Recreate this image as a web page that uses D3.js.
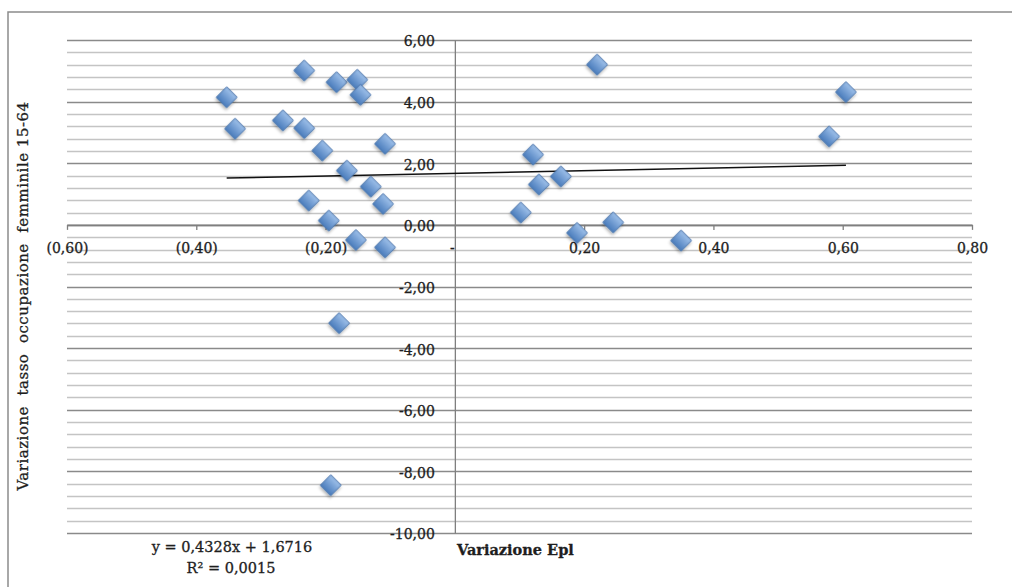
<!DOCTYPE html>
<html lang="it">
<head>
  <meta charset="UTF-8" />
  <title>Variazione Epl vs tasso occupazione femminile</title>
  <style>
    body {
      margin: 0; background: #fff;
    }
    #chart text {
      font-family: "DejaVu Serif", "Liberation Serif", serif;
      fill: #1e1e1e;
      stroke: #1e1e1e;
      stroke-width: 0.3px;
    }
  </style>
</head>
<body>
  <div id="chart"></div>

  <script src="https://cdn.jsdelivr.net/npm/d3@7"></script>
  <script>
    // values
    const epl = [-0.353, -0.340, -0.233, -0.266, -0.233, -0.183, -0.151, -0.146, -0.205, -0.108,
                 -0.167, -0.130, -0.226, -0.111, -0.195, -0.153, -0.108, -0.179, -0.192,
                 0.220, 0.121, 0.130, 0.164, 0.102, 0.189, 0.245, 0.350, 0.579, 0.605];
    const occupazione = [4.14, 3.12, 5.01, 3.39, 3.14, 4.63, 4.71, 4.22, 2.41, 2.63,
                         1.76, 1.24, 0.79, 0.68, 0.14, -0.49, -0.73, -3.19, -8.45,
                         5.20, 2.28, 1.31, 1.57, 0.40, -0.26, 0.08, -0.51, 2.87, 4.31];

    const xTicks = [-0.6, -0.4, -0.2, 0, 0.2, 0.4, 0.6, 0.8];
    const xTickLabels = ["(0,60)", "(0,40)", "(0,20)", "-", "0,20", "0,40", "0,60", "0,80"];
    const yTicks = [6, 4, 2, 0, -2, -4, -6, -8, -10];
    const yTickLabels = ["6,00", "4,00", "2,00", "0,00", "-2,00", "-4,00", "-6,00", "-8,00", "-10,00"];

    const trendSlope = 0.4328, trendIntercept = 1.6716;
    const equationLines = ["y = 0,4328x + 1,6716", "R² = 0,0015"];

    const W = 1012, H = 587;
    const svg = d3.select("#chart").append("svg")
      .attr("width", W)
      .attr("height", H);

    const defs = svg.append("defs");
    const grad = defs.append("linearGradient").attr("id", "mk")
      .attr("x1", 0).attr("y1", 0).attr("x2", 0).attr("y2", 1);
    grad.append("stop").attr("offset", "0%").attr("stop-color", "#9dbfe9");
    grad.append("stop").attr("offset", "100%").attr("stop-color", "#4a7cbc");
    defs.append("filter").attr("id", "shadow")
      .attr("x", "-50%").attr("y", "-50%").attr("width", "200%").attr("height", "200%")
      .append("feDropShadow")
      .attr("dx", 1).attr("dy", 2).attr("stdDeviation", 1.4)
      .attr("flood-color", "#000").attr("flood-opacity", 0.3);

    // frame (only top and left edges are visible)
    svg.append("path")
      .attr("d", `M8,${H} V12 H${W}`)
      .attr("fill", "none")
      .attr("stroke", "#8c8c8c")
      .attr("stroke-width", 1.5);

    const x = d3.scaleLinear().domain([-0.6, 0.8]).range([67, 972]);
    const y = d3.scaleLinear().domain([-10, 6]).range([533, 40]);

    // gridlines, minor every 0.4, major every 2
    const gridVals = d3.range(41).map(i => -10 + i * 0.4);
    svg.append("g")
      .selectAll("line")
      .data(gridVals)
      .join("line")
      .attr("x1", x(-0.6)).attr("x2", x(0.8))
      .attr("y1", d => Math.round(y(d)) + 0.5)
      .attr("y2", d => Math.round(y(d)) + 0.5)
      .attr("stroke", (d, i) => i % 5 === 0 ? "#8a8a8a" : "#c4c4c4")
      .attr("stroke-width", (d, i) => i % 5 === 0 ? 1.6 : 1.3);

    // horizontal axis at y = 0
    const xAxis = svg.append("g")
      .attr("transform", `translate(0,${y(0)})`)
      .call(d3.axisBottom(x)
        .tickValues(xTicks)
        .tickFormat((d, i) => xTickLabels[i])
        .tickSize(5)
        .tickSizeOuter(0)
        .tickPadding(13));
    xAxis.select(".domain").attr("stroke", "#7f7f7f").attr("stroke-width", 1.6);
    xAxis.selectAll(".tick line").attr("stroke", "#7f7f7f").attr("stroke-width", 1.3);
    xAxis.selectAll(".tick text").attr("font-size", 14)
      .attr("dx", (d, i) => xTicks[i] === 0 ? -3 : 0);

    // vertical axis at x = 0
    const yAxis = svg.append("g")
      .attr("transform", `translate(${x(0)},0)`)
      .call(d3.axisLeft(y)
        .tickValues(yTicks)
        .tickFormat((d, i) => yTickLabels[i])
        .tickSize(0)
        .tickPadding(20));
    yAxis.select(".domain").attr("stroke", "#7f7f7f").attr("stroke-width", 1.3);
    yAxis.selectAll(".tick text").attr("font-size", 14).attr("dy", "0.42em");

    // linear trendline across the data range
    const [xMin, xMax] = d3.extent(epl);
    svg.append("line")
      .attr("x1", x(xMin)).attr("y1", y(trendIntercept + trendSlope * xMin))
      .attr("x2", x(xMax)).attr("y2", y(trendIntercept + trendSlope * xMax))
      .attr("stroke", "#111")
      .attr("stroke-width", 1.5);

    // markers
    const diamond = d3.symbol(d3.symbolSquare, 215);
    svg.append("g")
      .selectAll("path")
      .data(epl.map((v, i) => [v, occupazione[i]]))
      .join("path")
      .attr("d", diamond)
      .attr("transform", d => `translate(${x(d[0])},${y(d[1])}) rotate(45)`)
      .attr("fill", "url(#mk)")
      .attr("stroke", "#4470a8")
      .attr("stroke-width", 0.8)
      .attr("filter", "url(#shadow)");

    // trendline equation
    svg.append("text")
      .attr("x", 232).attr("y", 552)
      .attr("text-anchor", "middle")
      .attr("font-size", 14.5)
      .text(equationLines[0]);
    svg.append("text")
      .attr("x", 231).attr("y", 573)
      .attr("text-anchor", "middle")
      .attr("font-size", 14.5)
      .text(equationLines[1]);

    // axis titles
    svg.append("text")
      .attr("x", 457).attr("y", 555)
      .attr("font-size", 14.5)
      .attr("font-weight", "bold")
      .text("Variazione Epl");

    svg.append("text")
      .attr("transform", "translate(28,296) rotate(-90)")
      .attr("text-anchor", "middle")
      .attr("font-size", 15)
      .attr("letter-spacing", 0.5)
      .style("white-space", "pre")
      .text("Variazione  tasso  occupazione  femminile 15-64");
  </script>
</body>
</html>
